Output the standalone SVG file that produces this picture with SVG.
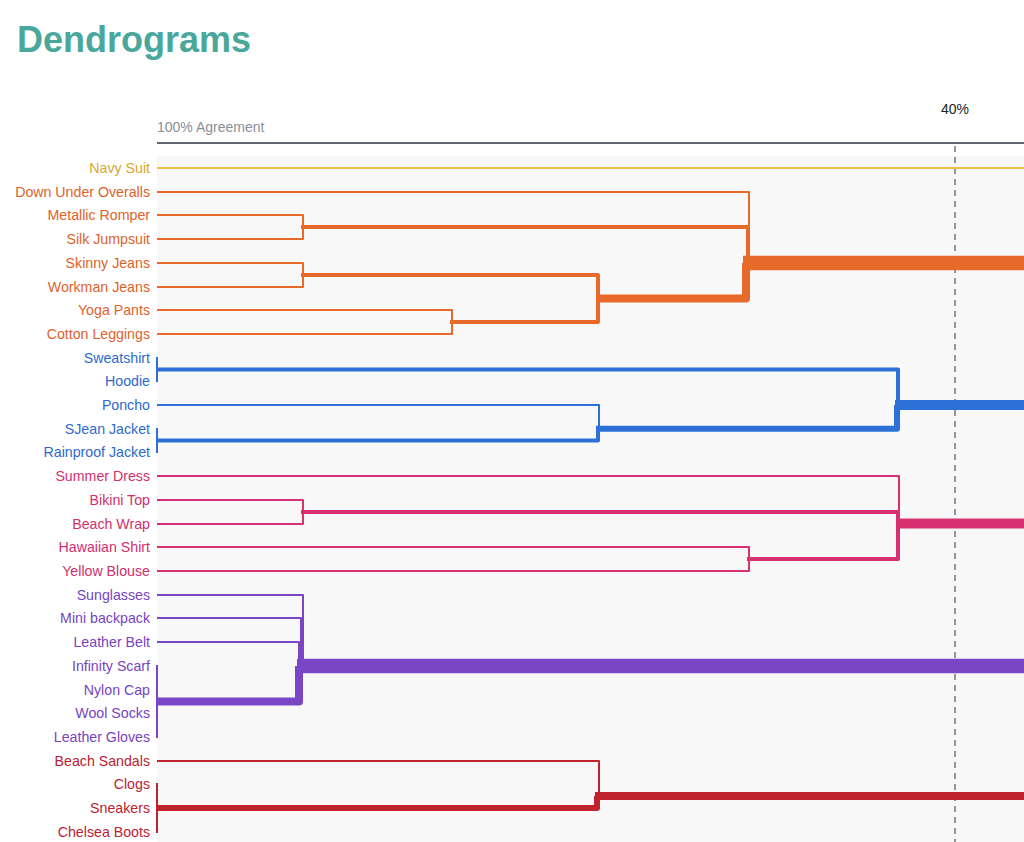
<svg xmlns="http://www.w3.org/2000/svg" width="1024" height="842" viewBox="0 0 1024 842">
<style>
text{font-family:"Liberation Sans",Arial,sans-serif;font-size:14px}
.lbl{text-anchor:end;font-size:14.2px}
.l{fill:none;stroke-linejoin:round;stroke-linecap:butt}
.w2{stroke-width:2}.w4{stroke-width:4}.w6{stroke-width:6}.w8{stroke-width:8}.w10{stroke-width:10}.w14{stroke-width:14.5}
.y{stroke:#efbf45}.o{stroke:#e86a2b}.b{stroke:#2d71d8}.p{stroke:#d73172}.v{stroke:#7b46c6}.r{stroke:#bf242e}
.ty{fill:#d9a82f}.to{fill:#e0622a}.tb{fill:#2c6ad0}.tp{fill:#d22f6d}.tv{fill:#7743c4}.tr{fill:#bb2230}
</style>
<rect width="1024" height="842" fill="#ffffff"/>
<text x="17" y="52" style="font-size:36px;font-weight:bold;fill:#4aa79b">Dendrograms</text>
<g id="axis">
<rect x="157" y="156" width="867" height="686" fill="#f8f8f8"/>
<text x="157" y="132" style="fill:#8a8f96">100% Agreement</text>
<text x="955" y="114" text-anchor="middle" style="fill:#222">40%</text>
<line x1="157" y1="143" x2="1024" y2="143" stroke="#5f6871" stroke-width="2"/>
<line x1="955" y1="146" x2="955" y2="842" stroke="#8f979e" stroke-width="2" stroke-dasharray="6 5"/>
</g>
<g id="connectors">
<path class="l y w2" d="M157,168 H1024"/>
<path class="l o w2" d="M157,192 H749 V263"/>
<path class="l o w2" d="M157,215 H303 V227"/>
<path class="l o w2" d="M157,239 H303 V227"/>
<path class="l o w2" d="M157,263 H303 V275"/>
<path class="l o w2" d="M157,287 H303 V275"/>
<path class="l o w2" d="M157,310 H452 V322"/>
<path class="l o w2" d="M157,334 H452 V322"/>
<path class="l o w4" d="M301,227 H748 V263"/>
<path class="l o w4" d="M301,275 H598 V298.5"/>
<path class="l o w4" d="M450,322 H598 V298.5"/>
<path class="l o w8" d="M596,298.5 H746 V263"/>
<path class="l o w14" d="M743,263 H1024"/>
<path class="l b w2" d="M157,357 V382"/>
<path class="l b w4" d="M157,369.5 H898 V405"/>
<path class="l b w2" d="M157,405 H599 V428.7"/>
<path class="l b w2" d="M157,428 V453"/>
<path class="l b w4" d="M157,440.5 H598 V428.7"/>
<path class="l b w6" d="M596,428.7 H897 V405"/>
<path class="l b w10" d="M895,405 H1024"/>
<path class="l p w2" d="M157,476 H899 V523.6"/>
<path class="l p w2" d="M157,500 H303 V512"/>
<path class="l p w2" d="M157,524 H303 V512"/>
<path class="l p w4" d="M301,512 H898 V523.6"/>
<path class="l p w2" d="M157,547 H749 V559"/>
<path class="l p w2" d="M157,571 H749 V559"/>
<path class="l p w4" d="M747,559 H898 V523.6"/>
<path class="l p w10" d="M896,523.6 H1024"/>
<path class="l v w2" d="M157,595 H303 V666"/>
<path class="l v w2" d="M157,618 H301 V666"/>
<path class="l v w2" d="M157,642 H299 V666"/>
<path class="l v w2" d="M157,665 V738"/>
<path class="l v w8" d="M157,701.5 H299 V666"/>
<path class="l v w14" d="M297,666 H1024"/>
<path class="l r w2" d="M157,761 H599 V796"/>
<path class="l r w2" d="M157,783 V833"/>
<path class="l r w6" d="M157,808 H597 V796"/>
<path class="l r w8" d="M595,796 H1024"/>
</g>
<g id="navy-suit"><text class="lbl ty" x="150" y="173">Navy Suit</text></g>
<g id="down-under-overalls"><text class="lbl to" x="150" y="197">Down Under Overalls</text></g>
<g id="metallic-romper"><text class="lbl to" x="150" y="220">Metallic Romper</text></g>
<g id="silk-jumpsuit"><text class="lbl to" x="150" y="244">Silk Jumpsuit</text></g>
<g id="skinny-jeans"><text class="lbl to" x="150" y="268">Skinny Jeans</text></g>
<g id="workman-jeans"><text class="lbl to" x="150" y="292">Workman Jeans</text></g>
<g id="yoga-pants"><text class="lbl to" x="150" y="315">Yoga Pants</text></g>
<g id="cotton-leggings"><text class="lbl to" x="150" y="339">Cotton Leggings</text></g>
<g id="sweatshirt"><text class="lbl tb" x="150" y="363">Sweatshirt</text></g>
<g id="hoodie"><text class="lbl tb" x="150" y="386">Hoodie</text></g>
<g id="poncho"><text class="lbl tb" x="150" y="410">Poncho</text></g>
<g id="sjean-jacket"><text class="lbl tb" x="150" y="434">SJean Jacket</text></g>
<g id="rainproof-jacket"><text class="lbl tb" x="150" y="457">Rainproof Jacket</text></g>
<g id="summer-dress"><text class="lbl tp" x="150" y="481">Summer Dress</text></g>
<g id="bikini-top"><text class="lbl tp" x="150" y="505">Bikini Top</text></g>
<g id="beach-wrap"><text class="lbl tp" x="150" y="529">Beach Wrap</text></g>
<g id="hawaiian-shirt"><text class="lbl tp" x="150" y="552">Hawaiian Shirt</text></g>
<g id="yellow-blouse"><text class="lbl tp" x="150" y="576">Yellow Blouse</text></g>
<g id="sunglasses"><text class="lbl tv" x="150" y="600">Sunglasses</text></g>
<g id="mini-backpack"><text class="lbl tv" x="150" y="623">Mini backpack</text></g>
<g id="leather-belt"><text class="lbl tv" x="150" y="647">Leather Belt</text></g>
<g id="infinity-scarf"><text class="lbl tv" x="150" y="671">Infinity Scarf</text></g>
<g id="nylon-cap"><text class="lbl tv" x="150" y="695">Nylon Cap</text></g>
<g id="wool-socks"><text class="lbl tv" x="150" y="718">Wool Socks</text></g>
<g id="leather-gloves"><text class="lbl tv" x="150" y="742">Leather Gloves</text></g>
<g id="beach-sandals"><text class="lbl tr" x="150" y="766">Beach Sandals</text></g>
<g id="clogs"><text class="lbl tr" x="150" y="789">Clogs</text></g>
<g id="sneakers"><text class="lbl tr" x="150" y="813">Sneakers</text></g>
<g id="chelsea-boots"><text class="lbl tr" x="150" y="837">Chelsea Boots</text></g>
</svg>
